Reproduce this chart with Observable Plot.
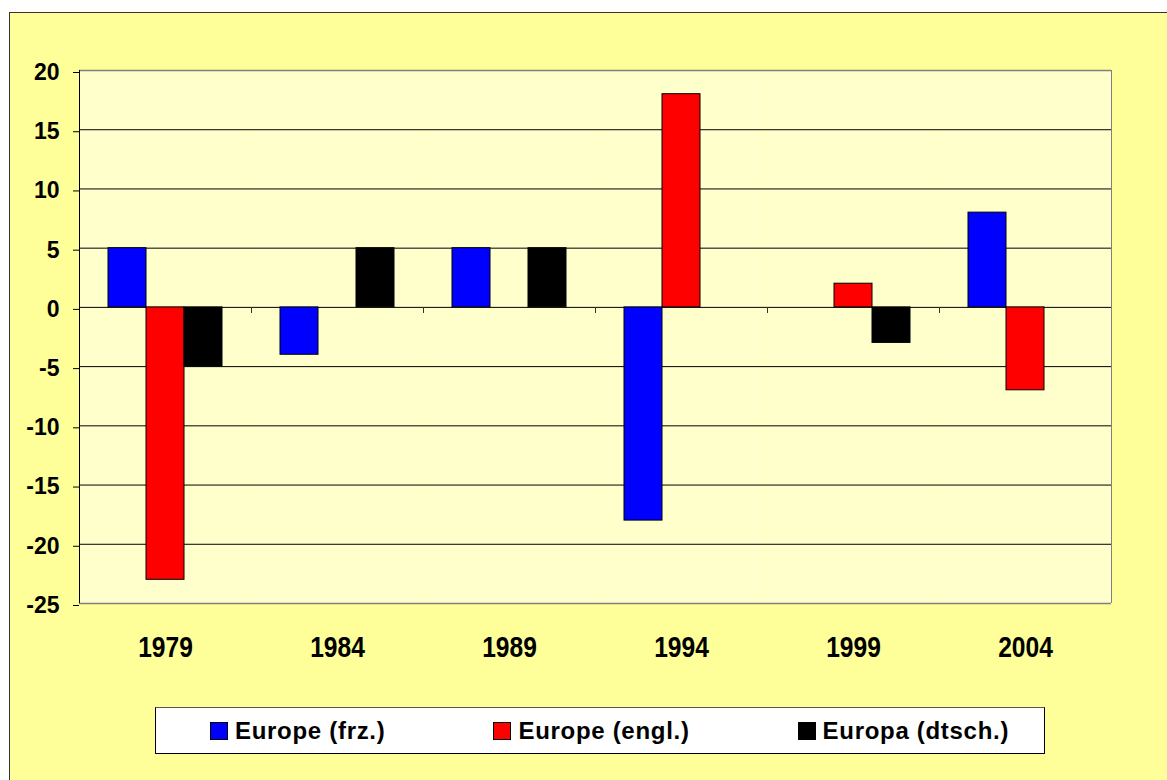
<!DOCTYPE html>
<html>
<head>
<meta charset="utf-8">
<script src="https://cdn.jsdelivr.net/npm/d3@7"></script>
<script src="https://cdn.jsdelivr.net/npm/@observablehq/plot@0.6"></script>
<style>
  html, body { margin: 0; padding: 0; background: #ffffff; }
  #bg { position: absolute; left: 9px; top: 12px; width: 1180px; height: 800px; background: #FFFF99; border: 1px solid #333333; box-sizing: border-box; }
  #chart { position: absolute; left: 0; top: 0; width: 1167px; }
  #legend { margin-left: 155px; margin-top: 27px; width: 890px; height: 47px; box-sizing: border-box;
    background: #ffffff; border: 1px solid #000000; border-top-color: #555555;
    display: flex; align-items: center; padding-left: 54px; gap: 108px;
    font-family: "Liberation Sans", Arial, sans-serif; font-weight: bold; font-size: 24px; letter-spacing: 0.7px; color: #000; }
  .item { display: flex; align-items: center; white-space: nowrap; }
  .sw { width: 18px; height: 18px; box-sizing: border-box; border: 1px solid #000; margin-right: 7px; }
</style>
</head>
<body>
<div id="bg"></div>
<div id="chart"></div>
<script>
const years = ["1979", "1984", "1989", "1994", "1999", "2004"];
const seriesNames = ["Europe (frz.)", "Europe (engl.)", "Europa (dtsch.)"];
const seriesColors = ["#0000FF", "#FF0000", "#000000"];
const frz = [5, -4, 5, -18, 0, 8];
const engl = [-23, 0, 0, 18, 2, -7];
const dtsch = [-5, 5, 5, 0, -3, 0];
const yTicks = [-25, -20, -15, -10, -5, 0, 5, 10, 15, 20];
const gridTicks = [-20, -15, -10, -5, 0, 5, 10, 15];

const rows = [];
[frz, engl, dtsch].forEach((vals, si) => {
  vals.forEach((v, i) => {
    if (v !== 0) rows.push({year: years[i], series: seriesNames[si], value: v});
  });
});

// draws a vertical line at a facet's left/right edge between two y values (or a short tick below y=0)
function edgeLine(facetYears, side, y1, y2, stroke, tickLen) {
  return Plot.ruleY(facetYears.map(y => ({year: y})), {
    fx: "year",
    y: () => 0,
    render(index, scales, values, dims) {
      if (!index.length) return null;
      const x = side === "left" ? dims.marginLeft : dims.width - dims.marginRight;
      const ya = scales.y(y1);
      const yb = tickLen ? ya + tickLen : scales.y(y2);
      const g = d3.create("svg:g");
      g.append("line")
        .attr("x1", x).attr("x2", x)
        .attr("y1", ya).attr("y2", yb)
        .attr("stroke", stroke).attr("stroke-width", 1)
        .attr("shape-rendering", "crispEdges");
      return g.node();
    }
  });
}

const chart = Plot.plot({
  width: 1167,
  height: 680,
  marginTop: 70,
  marginLeft: 78,
  marginRight: 55,
  marginBottom: 77,
  style: {background: "transparent", fontFamily: "'Liberation Sans', Arial, sans-serif", color: "#000"},
  fx: {domain: years, padding: 0, round: true, axis: null},
  x: {domain: seriesNames, type: "band", paddingInner: 0, paddingOuter: 0.74, axis: null},
  y: {domain: [-25, 20], axis: null},
  color: {domain: seriesNames, range: seriesColors},
  marks: [
    Plot.frame({fill: "#FFFFCC", stroke: null}),
    Plot.gridY({ticks: gridTicks, stroke: "#000", strokeOpacity: 1, strokeWidth: 1}),
    Plot.ruleY([20, -25], {stroke: "#808080", strokeWidth: 1.5}),
    edgeLine(years, "left", 0, 0, "#333", 6),
    edgeLine([years[years.length - 1]], "right", 0, 0, "#333", 6),
    edgeLine([years[years.length - 1]], "right", 20, -25, "#808080"),
    Plot.barY(rows, {fx: "year", x: "series", y: "value", fill: "series", stroke: "#000", strokeWidth: 1, insetLeft: 0, insetRight: 0}),
    edgeLine([years[0]], "left", 20, -25, "#000"),
    Plot.axisY({ticks: yTicks, anchor: "left", tickSize: 6, tickPadding: 14, fontSize: 23, fontWeight: "bold",
      tickFormat: d => String(d), label: null, stroke: "#000", dy: 2}),
    Plot.axisFx({anchor: "bottom", tickSize: 0, tickPadding: 32, fontSize: 30, fontWeight: "bold",
      fontFamily: "'Liberation Sans', Arial, sans-serif", label: null})
  ]
});

// Arial Narrow look: horizontally compress the year labels around their anchor
chart.querySelectorAll('g[aria-label*="fx-axis"] text').forEach(t => {
  const tr = t.getAttribute("transform");
  if (tr) {
    t.setAttribute("transform", tr + " scale(0.82,1)");
  } else {
    const x = +(t.getAttribute("x") || 0);
    t.setAttribute("transform", `translate(${x},0) scale(0.82,1) translate(${-x},0)`);
  }
});

const container = document.getElementById("chart");
container.appendChild(chart);

const legend = document.createElement("div");
legend.id = "legend";
seriesNames.forEach((name, i) => {
  const item = document.createElement("div");
  item.className = "item";
  const sw = document.createElement("div");
  sw.className = "sw";
  sw.style.background = seriesColors[i];
  const label = document.createElement("span");
  label.textContent = name;
  item.appendChild(sw);
  item.appendChild(label);
  legend.appendChild(item);
});
container.appendChild(legend);
</script>
</body>
</html>
